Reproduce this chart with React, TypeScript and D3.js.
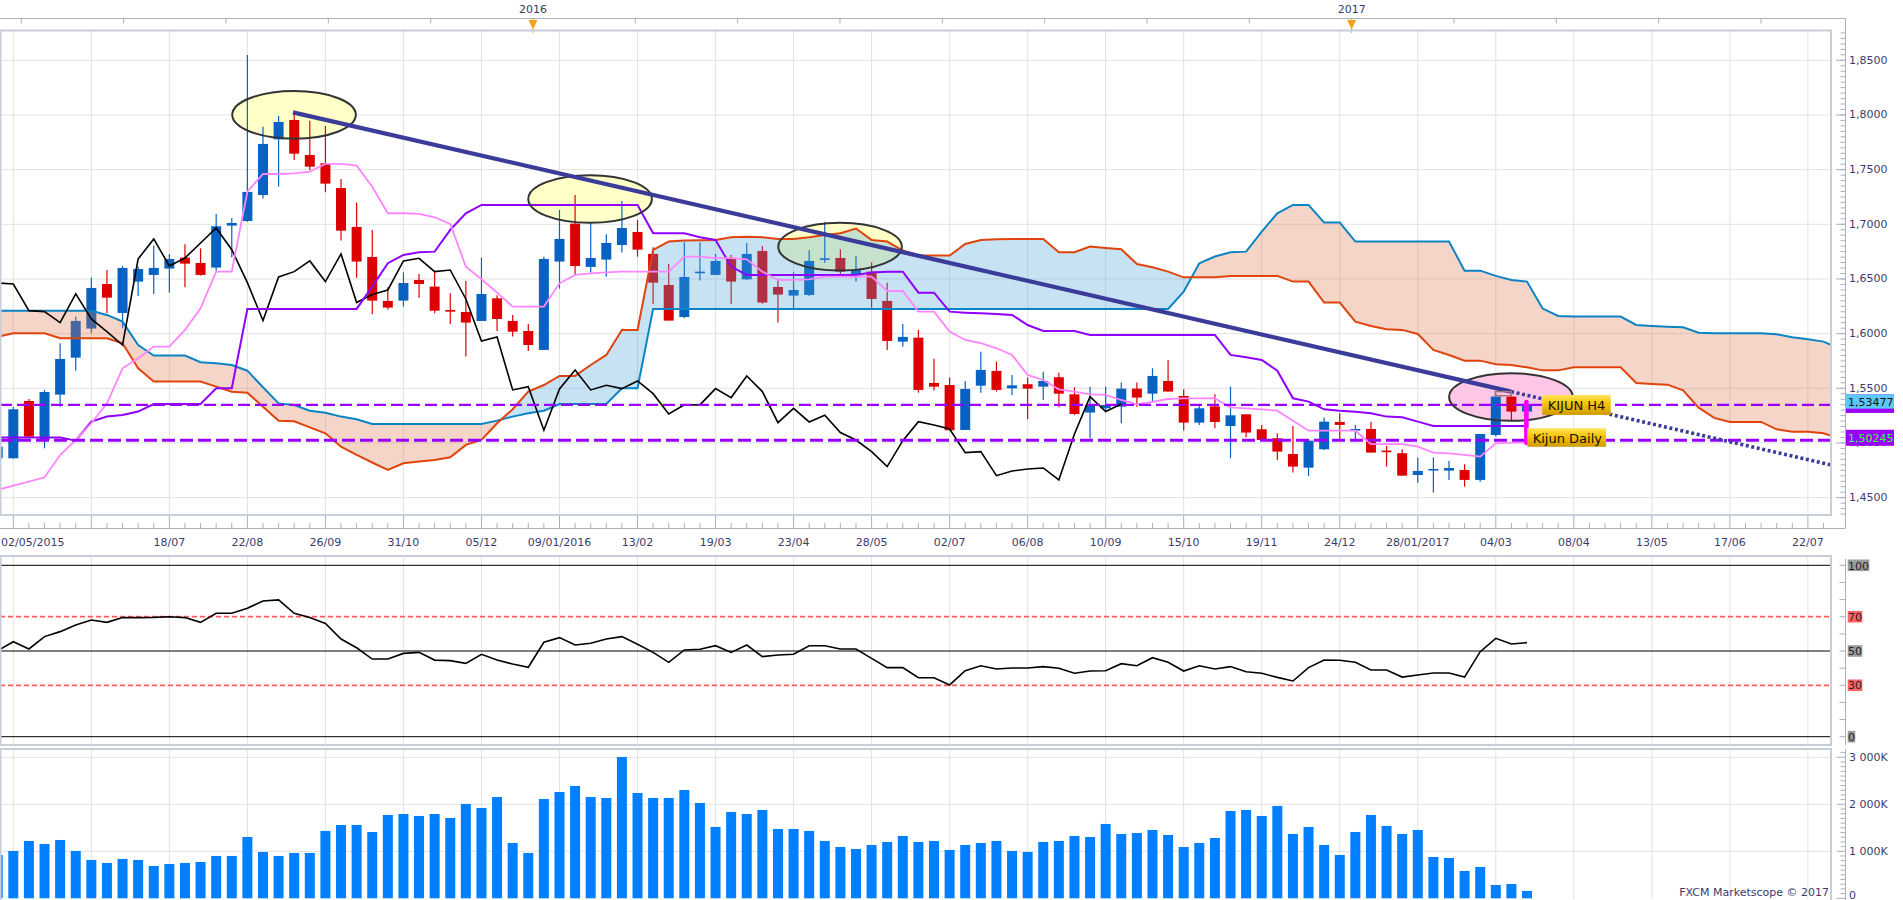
import React from 'react';
import * as d3 from 'd3';

// ---------- weekly candles (index 0 = week of 02/05/2015) ----------
const opens = [1.4860,1.4860,1.5384,1.5027,1.5442,1.5780,1.6046,1.6454,1.6189,1.6476,
 1.6537,1.6595,1.6695,1.6646,1.6604,1.6988,1.7030,1.7268,1.7777,1.7954,
 1.7634,1.7558,1.7332,1.6976,1.6701,1.6299,1.6302,1.6491,1.6430,1.6216,
 1.6198,1.6116,1.6323,1.6116,1.6024,1.5851,1.6659,1.7006,1.6610,1.6677,
 1.6811,1.6930,1.6729,1.6445,1.6152,1.6558,1.6537,1.6692,1.6497,1.6756,
 1.6427,1.6348,1.6354,1.6680,1.6692,1.6537,1.6567,1.6299,1.5927,1.5963,
 1.5549,1.5530,1.5119,1.5524,1.5659,1.5500,1.5537,1.5515,1.5601,1.5445,
 1.5278,1.5317,1.5332,1.5497,1.5451,1.5567,1.5430,1.5186,1.5335,1.5155,
 1.5262,1.5125,1.5043,1.4899,1.4774,1.4942,1.5192,1.5113,1.5128,1.4930,
 1.4906,1.4707,1.4756,1.4747,1.4753,1.4662,1.5073,1.5424,1.5287];
const highs = [1.4997,1.5332,1.5402,1.5485,1.5912,1.6155,1.6512,1.6582,1.6619,1.6613,
 1.6805,1.6729,1.6817,1.6780,1.7095,1.7055,1.8549,1.7893,1.7991,1.8015,
 1.7948,1.7899,1.7415,1.7198,1.6948,1.6424,1.6561,1.6546,1.6576,1.6369,
 1.6482,1.6695,1.6351,1.6171,1.6088,1.6704,1.7131,1.7268,1.7009,1.6909,
 1.7213,1.7040,1.6790,1.6637,1.6835,1.6835,1.6729,1.6720,1.6829,1.6802,
 1.6497,1.6561,1.6765,1.7024,1.6771,1.6710,1.6652,1.6466,1.6088,1.6034,
 1.5771,1.5598,1.5567,1.5835,1.5744,1.5622,1.5598,1.5652,1.5643,1.5509,
 1.5515,1.5515,1.5552,1.5552,1.5683,1.5759,1.5491,1.5357,1.5445,1.5515,
 1.5262,1.5165,1.5088,1.5156,1.5033,1.5232,1.5271,1.5165,1.5195,1.4973,
 1.4942,1.4866,1.4866,1.4835,1.4805,1.5082,1.5454,1.5454,1.5378];
const lows = [1.4829,1.4855,1.5052,1.4951,1.5332,1.5662,1.6003,1.6186,1.6049,1.6345,
 1.6363,1.6375,1.6424,1.6531,1.6576,1.6698,1.7024,1.7235,1.7345,1.7588,
 1.7497,1.7293,1.6851,1.6512,1.6177,1.6220,1.6247,1.6329,1.6186,1.6088,
 1.5790,1.6116,1.6024,1.5973,1.5841,1.5851,1.6412,1.6534,1.6558,1.6521,
 1.6741,1.6704,1.6271,1.6119,1.6140,1.6485,1.6537,1.6274,1.6491,1.6274,
 1.6101,1.6232,1.6345,1.6649,1.6537,1.6476,1.6238,1.5851,1.5881,1.5460,
 1.5479,1.5116,1.5119,1.5460,1.5470,1.5439,1.5216,1.5393,1.5326,1.5256,
 1.5043,1.5296,1.5180,1.5332,1.5378,1.5470,1.5113,1.5165,1.5134,1.4860,
 1.5052,1.5027,1.4845,1.4729,1.4698,1.4936,1.5027,1.5027,1.4912,1.4784,
 1.4701,1.4637,1.4546,1.4662,1.4601,1.4646,1.5058,1.5204,1.5287];
const closes = [1.4966,1.5308,1.5058,1.5466,1.5768,1.6116,1.6418,1.6329,1.6601,1.6591,
 1.6601,1.6683,1.6640,1.6537,1.6982,1.7012,1.7296,1.7735,1.7936,1.7646,
 1.7527,1.7372,1.6942,1.6659,1.6302,1.6238,1.6463,1.6454,1.6210,1.6201,
 1.6101,1.6363,1.6134,1.6018,1.5896,1.6683,1.6866,1.6619,1.6692,1.6829,
 1.6966,1.6768,1.6466,1.6119,1.6518,1.6567,1.6665,1.6476,1.6729,1.6284,
 1.6357,1.6399,1.6665,1.6689,1.6567,1.6582,1.6317,1.5933,1.5970,1.5485,
 1.5515,1.5116,1.5494,1.5668,1.5485,1.5527,1.5497,1.5567,1.5451,1.5265,
 1.5348,1.5348,1.5497,1.5415,1.5613,1.5470,1.5186,1.5317,1.5192,1.5253,
 1.5095,1.5027,1.4921,1.4784,1.5021,1.5195,1.5165,1.5128,1.4912,1.4921,
 1.4701,1.4744,1.4762,1.4771,1.4662,1.5082,1.5424,1.5287,1.5357];

// ---------- Ichimoku ----------
const tenkan = [1.4571,1.4610,1.4647,1.4686,1.4890,1.5027,1.5180,1.5362,1.5683,1.5774,
 1.5881,1.5881,1.6034,1.6232,1.6567,1.6567,1.7298,1.7460,1.7460,1.7466,
 1.7481,1.7552,1.7552,1.7536,1.7344,1.7101,1.7101,1.7095,1.7064,1.7003,
 1.6613,1.6497,1.6375,1.6247,1.6247,1.6247,1.6460,1.6537,1.6552,1.6561,
 1.6567,1.6567,1.6567,1.6567,1.6705,1.6705,1.6690,1.6690,1.6680,1.6567,
 1.6491,1.6491,1.6497,1.6521,1.6521,1.6521,1.6521,1.6390,1.6390,1.6201,
 1.6201,1.6018,1.5942,1.5912,1.5866,1.5805,1.5622,1.5576,1.5491,1.5469,
 1.5445,1.5439,1.5393,1.5353,1.5375,1.5402,1.5408,1.5408,1.5408,1.5326,
 1.5317,1.5308,1.5295,1.5204,1.5112,1.5112,1.5112,1.5112,1.4990,1.4990,
 1.4990,1.4966,1.4911,1.4905,1.4890,1.4875,1.4996,1.5003,1.5003];
const kijun = [1.5051,1.5051,1.5051,1.5051,1.5051,1.5021,1.5195,1.5241,1.5256,1.5287,
 1.5356,1.5356,1.5356,1.5356,1.5500,1.5500,1.6226,1.6226,1.6226,1.6226,
 1.6226,1.6226,1.6226,1.6226,1.6430,1.6644,1.6720,1.6744,1.6750,1.6949,
 1.7101,1.7177,1.7177,1.7177,1.7177,1.7177,1.7177,1.7177,1.7177,1.7177,
 1.7177,1.7177,1.6918,1.6918,1.6918,1.6881,1.6857,1.6613,1.6537,1.6537,
 1.6537,1.6537,1.6537,1.6537,1.6537,1.6537,1.6558,1.6567,1.6567,1.6375,
 1.6375,1.6201,1.6192,1.6186,1.6180,1.6171,1.6079,1.6024,1.6024,1.6024,
 1.5988,1.5988,1.5988,1.5988,1.5988,1.5988,1.5988,1.5988,1.5988,1.5805,
 1.5783,1.5759,1.5661,1.5408,1.5378,1.5308,1.5295,1.5286,1.5271,1.5241,
 1.5235,1.5195,1.5155,1.5155,1.5155,1.5155,1.5155,1.5155,1.5155];
const senkouA = [1.5972,1.6003,1.6003,1.6003,1.5958,1.5958,1.5958,1.5958,1.5912,1.5683,
 1.5561,1.5561,1.5561,1.5561,1.5515,1.5469,1.5460,1.5332,1.5204,1.5198,
 1.5143,1.5088,1.4966,1.4890,1.4821,1.4753,1.4814,1.4830,1.4845,1.4869,
 1.4982,1.5027,1.5180,1.5308,1.5469,1.5530,1.5613,1.5613,1.5713,1.5805,
 1.6034,1.6034,1.6765,1.6842,1.6851,1.6854,1.6857,1.6881,1.6887,1.6881,
 1.6866,1.6866,1.6881,1.6903,1.6918,1.6961,1.6857,1.6842,1.6760,1.6714,
 1.6714,1.6714,1.6820,1.6857,1.6863,1.6866,1.6866,1.6866,1.6744,1.6744,
 1.6796,1.6784,1.6772,1.6637,1.6607,1.6567,1.6515,1.6515,1.6515,1.6528,
 1.6528,1.6528,1.6528,1.6476,1.6476,1.6284,1.6284,1.6110,1.6070,1.6040,
 1.6034,1.5997,1.5851,1.5805,1.5753,1.5753,1.5720,1.5713,1.5692,1.5664,
 1.5664,1.5692,1.5692,1.5692,1.5692,1.5549,1.5540,1.5533,1.5482,1.5323,
 1.5229,1.5192,1.5192,1.5192,1.5125,1.5103,1.5103,1.5088,1.5042];
const senkouB = [1.6210,1.6210,1.6210,1.6210,1.6210,1.6210,1.6210,1.6171,1.6110,1.5896,
 1.5799,1.5799,1.5799,1.5738,1.5729,1.5713,1.5661,1.5509,1.5362,1.5347,
 1.5295,1.5277,1.5241,1.5216,1.5173,1.5173,1.5173,1.5173,1.5173,1.5173,
 1.5173,1.5173,1.5204,1.5241,1.5271,1.5295,1.5356,1.5356,1.5356,1.5356,
 1.5500,1.5500,1.6226,1.6226,1.6226,1.6226,1.6226,1.6226,1.6226,1.6226,
 1.6226,1.6226,1.6226,1.6226,1.6226,1.6226,1.6226,1.6226,1.6226,1.6226,
 1.6226,1.6226,1.6226,1.6226,1.6226,1.6226,1.6226,1.6226,1.6226,1.6226,
 1.6226,1.6226,1.6226,1.6226,1.6226,1.6226,1.6384,1.6644,1.6705,1.6744,
 1.6750,1.6933,1.7101,1.7177,1.7177,1.7016,1.7016,1.6842,1.6842,1.6842,
 1.6842,1.6842,1.6842,1.6842,1.6576,1.6576,1.6528,1.6491,1.6476,1.6229,
 1.6162,1.6156,1.6156,1.6156,1.6156,1.6079,1.6070,1.6064,1.6058,1.6009,
 1.6003,1.6003,1.6003,1.6003,1.5994,1.5967,1.5948,1.5927,1.5866];
const chikouShift = 26;

// ---------- RSI & volume ----------
const rsiValues = [50.2,55.4,51.2,58.4,61.3,65.2,68.1,66.7,69.5,69.5,
 69.6,70.0,69.5,66.7,72.0,72.0,74.9,79.2,79.8,72.0,
 69.6,66.1,57.0,51.9,45.3,45.3,48.6,49.2,44.7,44.4,
 42.8,48.1,44.7,42.4,40.5,55.1,57.8,53.5,54.5,57.0,
 58.4,53.9,49.2,43.4,50.6,51.0,53.1,49.2,53.5,46.7,
 47.7,48.1,53.1,53.1,51.2,51.2,45.7,40.3,40.3,34.4,
 34.4,30.2,38.5,41.4,39.5,40.1,40.1,40.9,39.9,37.0,
 38.3,38.5,42.6,41.4,46.1,43.4,38.3,41.4,39.5,40.9,
 37.9,37.0,34.6,32.5,40.3,44.7,44.6,43.4,38.9,38.9,
 34.8,36.0,37.2,37.2,34.8,49.6,57.4,54.1,54.9];
const volumesK = [922,1007,1220,1156,1241,1007,816,752,837,816,
 688,730,752,773,901,901,1305,986,901,965,
 965,1433,1560,1560,1411,1773,1794,1752,1794,1709,
 2007,1922,2156,1177,965,2113,2262,2390,2156,2135,
 3007,2241,2135,2135,2305,2028,1518,1837,1794,1879,
 1475,1475,1433,1220,1092,1050,1135,1199,1326,1199,
 1220,1028,1135,1177,1220,1007,986,1199,1220,1326,
 1305,1582,1369,1390,1454,1348,1092,1177,1284,1858,
 1879,1752,1965,1369,1518,1135,922,1411,1773,1539,
 1369,1454,879,858,582,667,284,305,156];

// ---------- axes ----------
const priceTicks = [1.45, 1.50, 1.55, 1.60, 1.65, 1.70, 1.75, 1.80, 1.85];
const dateLabels = ['02/05/2015','18/07','22/08','26/09','31/10','05/12','09/01/2016','13/02','19/03','23/04','28/05','02/07','06/08','10/09','15/10','19/11','24/12','28/01/2017','04/03','08/04','13/05','17/06','22/07'];
const dateLabelWeeks = [0,11,16,21,26,31,36,41,46,51,56,61,66,71,76,81,86,91,96,101,106,111,116];
const yearMarkers = [{ label: '2016', step: 0 }, { label: '2017', step: 8 }];
const rsiLevels = [{ v: 100, kind: 'solid' }, { v: 70, kind: 'band' }, { v: 50, kind: 'solid' }, { v: 30, kind: 'band' }, { v: 0, kind: 'solid' }];
const volumeTicks = [0, 1000, 2000, 3000];

// ---------- annotations ----------
const kijunH4 = 1.53477;
const kijunDaily = 1.50245;
const highlightEllipses = [
  { week: 18.99, price: 1.8001, fill: '#ffffc8' },
  { week: 37.96, price: 1.7231, fill: '#ffffc8' },
  { week: 53.98, price: 1.6795, fill: '#ffffc8' },
  { week: 96.97, price: 1.5420, fill: '#fec7e7' },
];
const ellipseHalfWeeks = 3.96;
const ellipseHalfPrice = 0.0218;
const trendStart = { week: 18.92, price: 1.8024 };
const trendEnd = { week: 96.98, price: 1.5469 };
const trendProjection = { week: 117.6, price: 1.4795 };
const kijunMarker = { week: 97.96, top: 1.5375, bottom: 1.5000 };
const h4Zone = { w0: 95.96, w1: 97.0, p0: 1.5469, p1: 1.5432 };

const FONT = "'DejaVu Sans', Verdana, sans-serif";
const AXIS_TEXT = '#3b3b6e';

export default function App() {
  const W = 1903, H = 900;
  const plotR = 1831;
  const mainT = 31, mainB = 515;
  const rsiT = 556, rsiB = 745;
  const volT = 749, volB = 899;
  const axisX = 1845.5;
  const dateAxisY = 528.5;
  const navY = 18.5;

  const x = d3.scaleLinear().domain([0, 117.48]).range([-2.3, plotR]);
  const y = d3.scaleLinear().domain([1.4341, 1.8768]).range([mainB, mainT]);
  const yR = d3.scaleLinear().domain([0, 100]).range([736.7, 565.3]);
  const yV = d3.scaleLinear().domain([0, 3000]).range([898.3, 757.3]);
  const nav = d3.scaleLinear().domain([-5, 12]).range([21.3, 1761]);

  const barW = 10;
  const gridWeeks = d3.range(1, 118, 5);
  const allWeeks = d3.range(1, 118);
  const priceMinor = d3.range(0, 89).map(k => 1.435 + 0.005 * k);
  const rsiMinor = d3.range(0, 11).map(k => k * 10);
  const volMinor = d3.range(0, 32).map(k => k * 100);
  const navSteps = d3.range(-5, 13).filter(k => k !== 0 && k !== 8);

  const priceLine = d3.line<number>().x((_, i) => x(i)).y(v => y(v));
  const idxCloud = senkouA.map((_, i) => i);
  const cloudArea = d3.area<number>().x(i => x(i)).y0(i => y(senkouA[i])).y1(i => y(senkouB[i]));
  const aboveB = d3.area<number>().x(i => x(i)).y0(mainT - 60).y1(i => y(senkouB[i]));
  const aboveA = d3.area<number>().x(i => x(i)).y0(mainT - 60).y1(i => y(senkouA[i]));
  const chikou = closes.slice(chikouShift);
  const rsiLine = d3.line<number>().x((_, i) => x(i)).y(v => yR(v));

  const fmtPrice = (p: number, d = 4) => d3.format(`.${d}f`)(p).replace('.', ',');
  const fmtVol = (v: number) => (v === 0 ? '0' : `${v / 1000} 000K`);

  const gridColor = '#e2e2e2';
  const frameColor = '#c6ced9';
  const axisColor = '#a9b1bd';

  const yH4 = y(kijunH4);
  const yDaily = y(kijunDaily);

  return (
    <div>
      <style>{'body{margin:0;overflow:hidden;background:#fff}'}</style>
      <svg width={W} height={H} style={{ display: 'block', background: '#ffffff', fontFamily: FONT }}>
        <defs>
          <clipPath id="mainClip"><rect x={0} y={mainT} width={plotR} height={mainB - mainT} /></clipPath>
          <clipPath id="rsiClip"><rect x={0} y={rsiT} width={plotR} height={rsiB - rsiT} /></clipPath>
          <clipPath id="volClip"><rect x={0} y={volT} width={plotR} height={volB - volT} /></clipPath>
          <clipPath id="aboveB"><path d={aboveB(idxCloud) || ''} /></clipPath>
          <clipPath id="aboveA"><path d={aboveA(idxCloud) || ''} /></clipPath>
          <linearGradient id="gold" x1="0" y1="0" x2="0" y2="1">
            <stop offset="0" stopColor="#ffe45c" />
            <stop offset="0.45" stopColor="#f7c300" />
            <stop offset="1" stopColor="#cf9a00" />
          </linearGradient>
        </defs>

        {/* ---------- navigator (top) ---------- */}
        <line x1={0} x2={axisX} y1={navY} y2={navY} stroke={axisColor} strokeWidth={1} />
        {navSteps.map(k => (
          <line key={k} x1={nav(k)} x2={nav(k)} y1={navY} y2={navY + 5} stroke={axisColor} strokeWidth={1} />
        ))}
        {yearMarkers.map(m => (
          <g key={m.label}>
            <text x={nav(m.step)} y={13} textAnchor="middle" fontSize={11} fill={AXIS_TEXT}>{m.label}</text>
            <line x1={nav(m.step)} x2={nav(m.step)} y1={navY} y2={33} stroke="#f5a21b" strokeWidth={1} />
            <path d={`M${nav(m.step) - 4.5},${navY + 1.5} L${nav(m.step) + 4.5},${navY + 1.5} L${nav(m.step)},${navY + 11} Z`} fill="#f5a21b" />
          </g>
        ))}

        {/* ---------- main panel ---------- */}
        <g clipPath="url(#mainClip)">
          {priceTicks.map(p => (
            <line key={p} x1={0} x2={plotR} y1={y(p)} y2={y(p)} stroke={gridColor} strokeWidth={1} />
          ))}
          {gridWeeks.map(w => (
            <line key={w} x1={x(w)} x2={x(w)} y1={mainT} y2={mainB} stroke={gridColor} strokeWidth={1} />
          ))}

          {highlightEllipses.map((e, k) => (
            <ellipse key={k} cx={x(e.week)} cy={y(e.price)} rx={x(e.week + ellipseHalfWeeks) - x(e.week)}
              ry={y(e.price) - y(e.price + ellipseHalfPrice)} fill={e.fill} />
          ))}

          {closes.map((c, i) => {
            const o = opens[i];
            const up = c >= o;
            const col = up ? '#0862c1' : '#dd0000';
            const top = y(Math.max(o, c));
            const bot = y(Math.min(o, c));
            return (
              <g key={i}>
                <line x1={x(i)} x2={x(i)} y1={y(highs[i])} y2={y(lows[i])} stroke={col} strokeWidth={1.2} />
                <rect x={x(i) - barW / 2} y={top} width={barW} height={Math.max(1.6, bot - top)} fill={col} />
              </g>
            );
          })}

          <path d={cloudArea(idxCloud) || ''} fill="rgb(70,160,215)" fillOpacity={0.3} clipPath="url(#aboveB)" />
          <path d={cloudArea(idxCloud) || ''} fill="rgb(222,115,72)" fillOpacity={0.3} clipPath="url(#aboveA)" />

          <path d={priceLine(senkouB) || ''} fill="none" stroke="#0a84c4" strokeWidth={2} />
          <path d={priceLine(senkouA) || ''} fill="none" stroke="#e0440c" strokeWidth={2} />
          <path d={priceLine(chikou) || ''} fill="none" stroke="#000000" strokeWidth={1.6} />
          <path d={priceLine(kijun) || ''} fill="none" stroke="#8f00ff" strokeWidth={2} />
          <path d={priceLine(tenkan) || ''} fill="none" stroke="#ff85ff" strokeWidth={1.8} />

          <line x1={0} x2={plotR} y1={yH4} y2={yH4} stroke="#9900ff" strokeWidth={2.2} strokeDasharray="12 5" />
          <line x1={0} x2={plotR} y1={yDaily} y2={yDaily} stroke="#9900ff" strokeWidth={3.2} strokeDasharray="13 5" />

          {highlightEllipses.map((e, k) => (
            <ellipse key={k} cx={x(e.week)} cy={y(e.price)} rx={x(e.week + ellipseHalfWeeks) - x(e.week)}
              ry={y(e.price) - y(e.price + ellipseHalfPrice)} fill="none" stroke="#333333" strokeWidth={2} />
          ))}

          <line x1={x(trendStart.week)} y1={y(trendStart.price)} x2={x(trendEnd.week)} y2={y(trendEnd.price)}
            stroke="#3b3b99" strokeWidth={4.3} />
          <line x1={x(trendEnd.week)} y1={y(trendEnd.price)} x2={x(trendProjection.week)} y2={y(trendProjection.price)}
            stroke="#3b3b99" strokeWidth={3.6} strokeDasharray="3 2.6" />

          <rect x={x(h4Zone.w0)} y={y(h4Zone.p0)} width={x(h4Zone.w1) - x(h4Zone.w0)} height={y(h4Zone.p1) - y(h4Zone.p0)}
            fill="none" stroke="#a87878" strokeWidth={1.5} />

          <line x1={x(kijunMarker.week)} x2={x(kijunMarker.week)} y1={y(kijunMarker.top)} y2={y(kijunMarker.bottom)}
            stroke="#ff00ff" strokeWidth={4.6} strokeLinecap="round" />

          {/* annotation labels */}
          <rect x={x(98.98)} y={yH4 - 10} width={68.4} height={20} fill="url(#gold)" />
          <text x={x(98.98) + 5.4} y={yH4 + 5} fontSize={13} fill="#111">KIJUN H4</text>
          <rect x={x(98.02)} y={yDaily - 12} width={78.7} height={18.5} fill="url(#gold)" />
          <text x={x(98.02) + 5.4} y={yDaily + 2.5} fontSize={13} fill="#111">Kijun Daily</text>
        </g>
        <rect x={0.5} y={30.5} width={plotR - 0.5} height={mainB - 30.5} fill="none" stroke={frameColor} strokeWidth={2} />

        {/* price axis */}
        <line x1={axisX} x2={axisX} y1={navY} y2={dateAxisY} stroke={axisColor} strokeWidth={1} />
        {priceMinor.map((p, k) => (
          <line key={k} x1={axisX - 5} x2={axisX} y1={y(p)} y2={y(p)} stroke={axisColor} strokeWidth={1} />
        ))}
        {priceTicks.map(p => (
          <g key={p}>
            <line x1={axisX - 9.5} x2={axisX} y1={y(p)} y2={y(p)} stroke={axisColor} strokeWidth={1} />
            <text x={1849} y={y(p) + 3.5} fontSize={11} fill={AXIS_TEXT}>{fmtPrice(p)}</text>
          </g>
        ))}
        <rect x={1846} y={yH4 - 10.5} width={48} height={18.5} fill="#9900ff" />
        <rect x={1846} y={yH4 - 10.5} width={48} height={14.2} fill="#5cc8f7" />
        <text x={1848} y={yH4 + 0.8} fontSize={11} fill="#111">{fmtPrice(kijunH4, 5)}</text>
        <rect x={1846} y={yDaily - 10.5} width={48} height={16} fill="#9900ff" />
        <text x={1848} y={yDaily + 1.5} fontSize={11} fill="#3cff3c">{fmtPrice(kijunDaily, 5)}</text>

        {/* ---------- date axis ---------- */}
        <line x1={0} x2={axisX} y1={dateAxisY} y2={dateAxisY} stroke={axisColor} strokeWidth={1} />
        {allWeeks.map(w => (
          <line key={w} x1={x(w)} x2={x(w)} y1={(w - 1) % 5 === 0 ? mainB + 1 : dateAxisY - 5.5} y2={dateAxisY}
            stroke={axisColor} strokeWidth={1} />
        ))}
        {dateLabels.map((lab, k) => (
          <text key={lab} x={k === 0 ? 1 : x(dateLabelWeeks[k])} y={546} fontSize={11} fill={AXIS_TEXT}
            textAnchor={k === 0 ? 'start' : 'middle'}>{lab}</text>
        ))}

        {/* ---------- RSI panel ---------- */}
        <g clipPath="url(#rsiClip)">
          {gridWeeks.map(w => (
            <line key={w} x1={x(w)} x2={x(w)} y1={rsiT} y2={rsiB} stroke={gridColor} strokeWidth={1} />
          ))}
          {rsiLevels.map(l => (
            <line key={l.v} x1={0} x2={plotR} y1={yR(l.v)} y2={yR(l.v)}
              stroke={l.kind === 'band' ? '#ff5a5a' : '#000'} strokeWidth={l.kind === 'band' ? 1.8 : 1}
              strokeDasharray={l.kind === 'band' ? '5 3' : undefined} />
          ))}
          <path d={rsiLine(rsiValues) || ''} fill="none" stroke="#000" strokeWidth={1.6} />
        </g>
        <rect x={0.5} y={rsiT} width={plotR - 0.5} height={rsiB - rsiT} fill="none" stroke={frameColor} strokeWidth={2} />
        <line x1={axisX} x2={axisX} y1={rsiT + 3} y2={rsiB} stroke={axisColor} strokeWidth={1} />
        {rsiMinor.map(v => (
          <line key={v} x1={axisX - 6} x2={axisX} y1={yR(v)} y2={yR(v)} stroke={axisColor} strokeWidth={1} />
        ))}
        {rsiLevels.map(l => {
          const w = String(l.v).length * 7 + 0.6;
          return (
            <g key={l.v}>
              <rect x={1847.7} y={yR(l.v) - 5.8} width={w} height={11.6} fill={l.kind === 'band' ? '#ff6464' : '#9c9c9c'} />
              <text x={1848} y={yR(l.v) + 4.2} fontSize={11} fill="#222">{l.v}</text>
            </g>
          );
        })}

        {/* ---------- volume panel ---------- */}
        <g clipPath="url(#volClip)">
          {gridWeeks.map(w => (
            <line key={w} x1={x(w)} x2={x(w)} y1={volT} y2={volB} stroke={gridColor} strokeWidth={1} />
          ))}
          {volumeTicks.filter(v => v > 0).map(v => (
            <line key={v} x1={0} x2={plotR} y1={yV(v)} y2={yV(v)} stroke={gridColor} strokeWidth={1} />
          ))}
          {volumesK.map((v, i) => (
            <rect key={i} x={x(i) - barW / 2} y={yV(v)} width={barW} height={yV(0) - yV(v)} fill="#0080ff" />
          ))}
        </g>
        <rect x={0.5} y={volT} width={plotR - 0.5} height={volB - volT + 2} fill="none" stroke={frameColor} strokeWidth={2} />
        <line x1={axisX} x2={axisX} y1={volT} y2={H} stroke={axisColor} strokeWidth={1} />
        {volMinor.map(v => (
          <line key={v} x1={v % 1000 === 0 ? axisX - 9 : axisX - 5} x2={axisX} y1={yV(v)} y2={yV(v)} stroke={axisColor} strokeWidth={1} />
        ))}
        {volumeTicks.map(v => (
          <text key={v} x={1849} y={Math.min(yV(v) + 4, 898.5)} fontSize={11} fill={AXIS_TEXT}>{fmtVol(v)}</text>
        ))}
        <text x={1829} y={896} fontSize={11} fill={AXIS_TEXT} textAnchor="end">FXCM Marketscope © 2017</text>
      </svg>
    </div>
  );
}
